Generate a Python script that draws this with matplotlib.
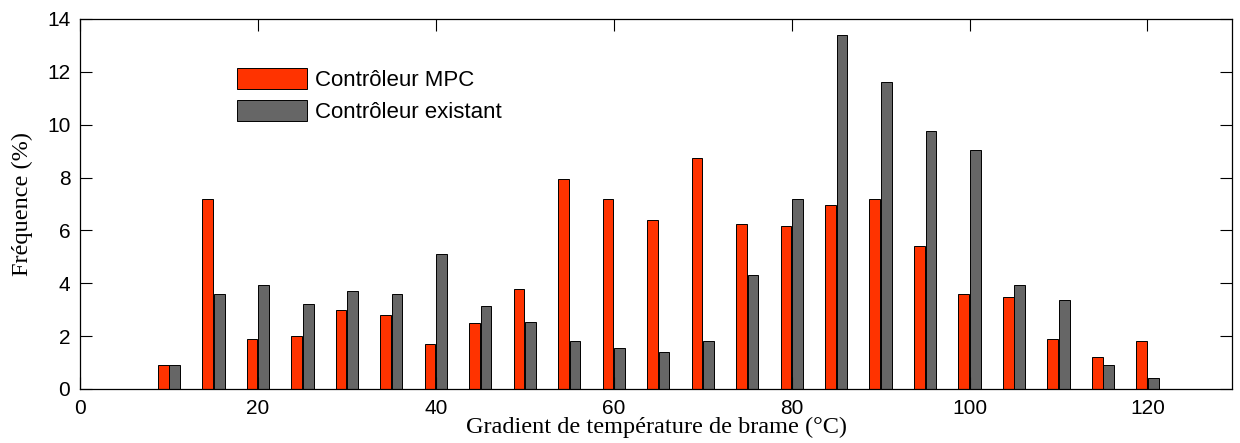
import numpy as np
import matplotlib.pyplot as plt

# Données
gradient = [5, 10, 15, 20, 25, 30, 35, 40, 45, 50, 55, 60, 65,
            70, 75, 80, 85, 90, 95, 100, 105, 110, 115, 120, 125]
freq_mpc = [0, 0.9, 7.2, 1.9, 2.0, 3.0, 2.8, 1.7, 2.5, 3.8, 7.95, 7.2, 6.4,
            8.75, 6.25, 6.15, 6.95, 7.2, 5.4, 3.6, 3.5, 1.9, 1.2, 1.8, 0]
freq_existant = [0, 0.9, 3.6, 3.95, 3.2, 3.7, 3.6, 5.1, 3.15, 2.55, 1.8, 1.55, 1.4,
                 1.8, 4.3, 7.2, 13.4, 11.6, 9.75, 9.05, 3.95, 3.35, 0.9, 0.4, 0]
labels = ['Contrôleur MPC', 'Contrôleur existant']

x = np.array(gradient, dtype=float)

fig = plt.figure(figsize=(12.4, 4.43), dpi=100)
ax = fig.add_axes([80 / 1240, 54 / 443, 1152 / 1240, 370 / 443])

w = 1.2
ax.bar(x - 0.65, freq_mpc, width=w, color='#ff3300', edgecolor='black', linewidth=0.7, label=labels[0])
ax.bar(x + 0.65, freq_existant, width=w, color='#666666', edgecolor='black', linewidth=0.7, label=labels[1])

ax.set_xlim(0, 129.5)
ax.set_ylim(0, 14)
ax.set_xticks(np.arange(0, 121, 20))
ax.set_yticks(np.arange(0, 15, 2))
ax.tick_params(direction='in', top=True, right=True, length=8.5, width=0.8,
               labelsize=15, pad=7)
for lab in ax.get_xticklabels() + ax.get_yticklabels():
    lab.set_fontfamily('Liberation Sans')
for s in ax.spines.values():
    s.set_linewidth(0.9)

ax.set_xlabel('Gradient de température de brame (°C)', fontfamily='Liberation Serif',
              fontsize=17.5, labelpad=-1)
ax.set_ylabel('Fréquence (%)', fontfamily='Liberation Serif', fontsize=17.5, labelpad=10)

# légende sans cadre, en haut à gauche
leg = ax.legend(loc='upper left', bbox_to_anchor=(0.1265, 0.897), frameon=False, borderpad=0,
                prop={'family': 'Liberation Sans', 'size': 16},
                handlelength=3.15, handleheight=1.08, handletextpad=0.36, labelspacing=0.4)

fig.savefig('out.png', dpi=100)
